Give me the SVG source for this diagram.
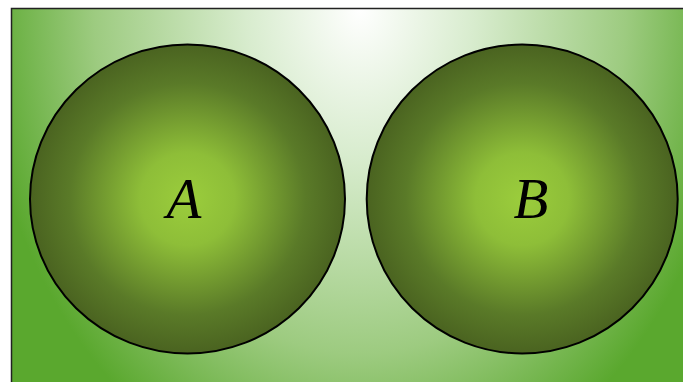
<svg xmlns="http://www.w3.org/2000/svg" width="683" height="382" viewBox="0 0 683 382">
<defs>
<radialGradient id="bg" gradientUnits="userSpaceOnUse" cx="360" cy="8" r="380" fx="360" fy="8" gradientTransform="translate(360 8) scale(1 1.3) translate(-360 -8)">
<stop offset="0" stop-color="#ffffff"/>
<stop offset="0.3" stop-color="#d8ecce"/>
<stop offset="0.7" stop-color="#9dcb80"/>
<stop offset="1" stop-color="#5aa82e"/>
</radialGradient>
<radialGradient id="ball" cx="0.5" cy="0.5" r="0.5">
<stop offset="0" stop-color="#9bcd3c"/>
<stop offset="0.3" stop-color="#8ebe38"/>
<stop offset="0.75" stop-color="#5a7a28"/>
<stop offset="1" stop-color="#4a6320"/>
</radialGradient>
<style>
.set{fill:url(#ball);stroke:#000;stroke-width:2}
.lbl{font-family:"Liberation Serif",serif;font-style:italic;font-size:57px;fill:#000;text-anchor:middle}
</style>
</defs>
<rect x="11.5" y="8.5" width="700" height="400" fill="url(#bg)" stroke="#222" stroke-width="1.5"/>
<g id="connectors"></g>
<g id="nodeA">
<ellipse class="set" cx="187.5" cy="199" rx="157.5" ry="154.5"/>
<text class="lbl" x="184" y="218">A</text>
</g>
<g id="nodeB">
<ellipse class="set" cx="522.2" cy="199" rx="155.5" ry="154.5"/>
<text class="lbl" x="531" y="218">B</text>
</g>
</svg>
